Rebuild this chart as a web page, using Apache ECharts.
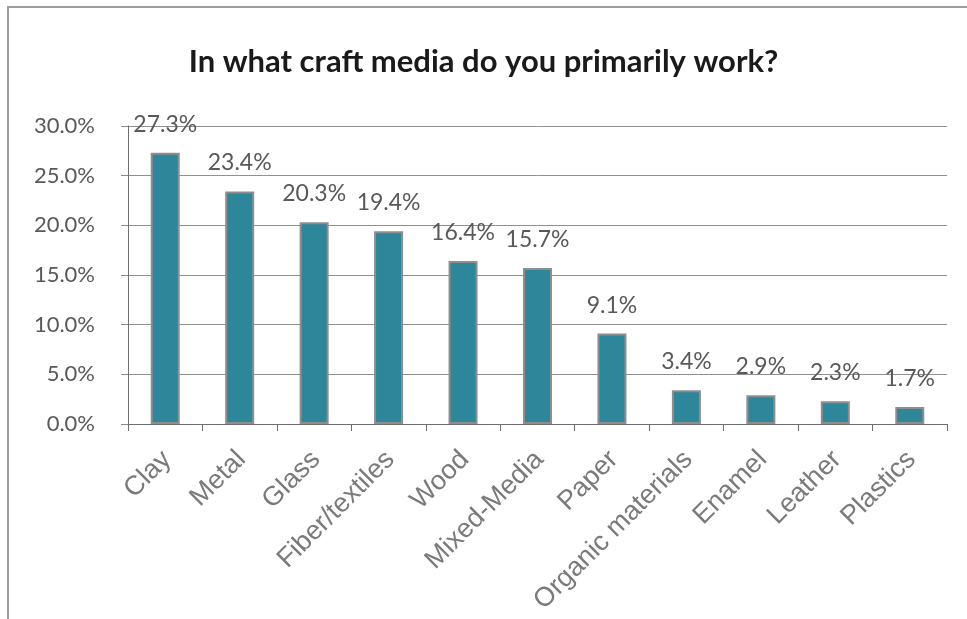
<!DOCTYPE html>
<html>
<head>
<meta charset="utf-8">
<title>Craft media</title>
<script src="https://cdn.jsdelivr.net/npm/echarts@6/dist/echarts.min.js"></script>
<style>
  html, body { margin: 0; padding: 0; background: #ffffff; }
  #chart { width: 967px; height: 619px; }
</style>
</head>
<body>
<div id="chart"></div>
<script>
// Survey answers: share of respondents by primary craft medium (percent)
const categories = ['Clay', 'Metal', 'Glass', 'Fiber/textiles', 'Wood', 'Mixed-Media',
  'Paper', 'Organic materials', 'Enamel', 'Leather', 'Plastics'];
const shares = [27.3, 23.4, 20.3, 19.4, 16.4, 15.7, 9.1, 3.4, 2.9, 2.3, 1.7];
const titleText = 'In what craft media do you primarily work?';
const yMin = 0, yMax = 30, yStep = 5;

const chart = echarts.init(document.getElementById('chart'), null, { renderer: 'canvas' });

chart.setOption({
  animation: false,
  backgroundColor: '#ffffff',
  title: {
    text: titleText,
    left: 'center',
    top: 41,
    textStyle: { fontFamily: 'Lato', fontWeight: 'bold', fontSize: 31, color: '#1a1a1a' }
  },
  graphic: [{
    type: 'rect',
    shape: { x: 8, y: 7, width: 1000, height: 700 },
    style: { fill: 'none', stroke: '#9c9c9c', lineWidth: 2 },
    silent: true
  }],
  grid: { left: 128, right: 20, top: 126, bottom: 195, containLabel: false },
  xAxis: {
    type: 'category',
    data: categories,
    boundaryGap: true,
    axisLine: { lineStyle: { color: '#6e6e6e', width: 1 } },
    axisTick: { show: true, length: 7, alignWithLabel: false, lineStyle: { color: '#6e6e6e' } },
    axisLabel: {
      interval: 0,
      rotate: 45,
      margin: 14,
      align: 'right',
      verticalAlign: 'top',
      padding: [0, 11, 0, 0],
      fontFamily: 'Liberation Sans',
      fontSize: 27,
      color: '#7a7a7a'
    }
  },
  yAxis: {
    type: 'value',
    min: yMin,
    max: yMax,
    interval: yStep,
    axisLine: { show: true, lineStyle: { color: '#6e6e6e', width: 1 } },
    axisTick: { show: true, length: 7, lineStyle: { color: '#8c8c8c' } },
    splitLine: { show: true, lineStyle: { color: '#909090', width: 1 } },
    axisLabel: {
      margin: 33,
      fontFamily: 'Lato',
      fontSize: 22,
      color: '#595959',
      formatter: v => v.toFixed(1) + '%'
    }
  },
  series: [{
    type: 'bar',
    data: shares,
    barWidth: 29,
    itemStyle: { color: '#2e869a', borderColor: '#8e8e8e', borderWidth: 2 },
    label: {
      show: true,
      position: 'top',
      distance: 17,
      fontFamily: 'Lato',
      fontSize: 23,
      color: '#595959',
      formatter: p => p.value.toFixed(1) + '%'
    }
  }]
});
</script>
</body>
</html>
